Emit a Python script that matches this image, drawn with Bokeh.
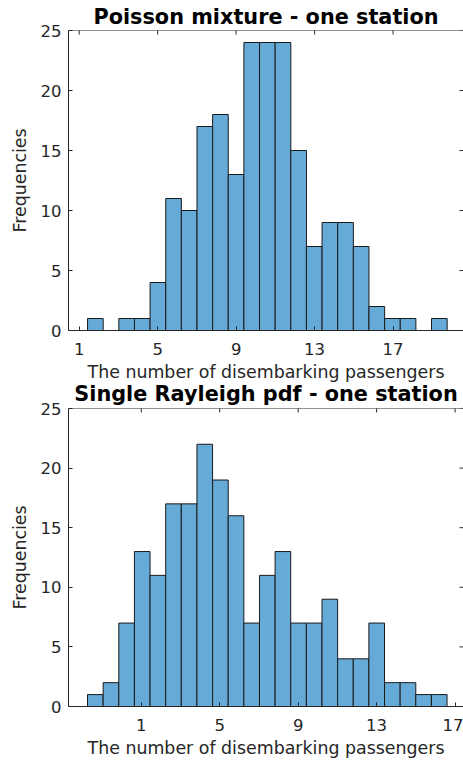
import math
from bokeh.plotting import figure
from bokeh.models import ColumnDataSource, Range1d, FixedTicker, Title, Span
from bokeh.layouts import column
from bokeh.embed import file_html
from bokeh.resources import INLINE

# ---- data ----
top_title = "Poisson mixture - one station"
bottom_title = "Single Rayleigh pdf - one station"
x_label = "The number of disembarking passengers"
y_label = "Frequencies"

top_counts = [1, 0, 1, 1, 4, 11, 10, 17, 18, 13, 24, 24, 24, 15, 7, 9, 9, 7, 2, 1, 1, 0, 1]
top_first_edge = 1.426
top_bin_width = 0.797
top_xlim = (0.455, 20.59)

bottom_counts = [1, 2, 7, 13, 11, 17, 17, 22, 19, 16, 7, 11, 13, 7, 7, 9, 4, 4, 7, 2, 2, 1, 1]
bottom_first_edge = -1.740
bottom_bin_width = 0.797
bottom_xlim = (-2.71, 17.43)

x_ticks = [1, 5, 9, 13, 17]
y_ticks = [0, 5, 10, 15, 20, 25]
y_lim = (0, 25)

FONT = "DejaVu Sans"
AX = "#262626"
FILL = "#66AAD7"


def make_hist(title, counts, first_edge, width, xlim, height, title_standoff):
    n = len(counts)
    left = [first_edge + i * width for i in range(n)]
    right = [first_edge + (i + 1) * width for i in range(n)]
    src = ColumnDataSource(dict(left=left, right=right, top=counts, bottom=[0] * n))

    p = figure(width=463, height=height, output_backend="svg", toolbar_location=None,
               x_range=Range1d(*xlim), y_range=Range1d(*y_lim),
               min_border_left=68, min_border_right=0, min_border_top=0,
               min_border_bottom=0)
    p.title = Title(text=title, align="center", offset=6,
                    text_font=FONT, text_font_size="20.8px", text_font_style="bold",
                    text_color="black", standoff=title_standoff)
    p.quad(left="left", right="right", top="top", bottom="bottom", source=src,
           fill_color=FILL, line_color="#1a1a1a", line_width=1)

    p.xgrid.visible = False
    p.ygrid.visible = False
    p.outline_line_color = None
    p.background_fill_color = "white"
    p.border_fill_color = None

    for ax, ticks in ((p.xaxis[0], x_ticks), (p.yaxis[0], y_ticks)):
        ax.ticker = FixedTicker(ticks=ticks)
        ax.major_tick_in = 4
        ax.major_tick_out = 0
        ax.minor_tick_in = 0
        ax.minor_tick_out = 0
        ax.axis_line_color = AX
        ax.major_tick_line_color = AX
        ax.major_label_text_font = FONT
        ax.major_label_text_font_size = "16.5px"
        ax.major_label_text_color = AX
        ax.major_label_text_line_height = 1.0
        ax.axis_label_text_font = FONT
        ax.axis_label_text_font_size = "17.4px"
        ax.axis_label_text_font_style = "normal"
        ax.axis_label_text_color = AX
        ax.axis_label_text_line_height = 1.0
    p.xaxis[0].axis_label = x_label
    p.yaxis[0].axis_label = y_label
    p.xaxis[0].major_label_standoff = 12
    p.xaxis[0].axis_label_standoff = 4
    p.yaxis[0].major_label_standoff = 7
    p.yaxis[0].axis_label_standoff = 8

    # top border of the box
    p.add_layout(Span(location=y_lim[1], dimension="width", line_color=AX, line_width=1))
    # inward box ticks on top and right edges (clipped to the frame)
    p.scatter(x=x_ticks, y=[y_lim[1]] * len(x_ticks), marker="dash", size=8,
              angle=math.pi / 2, line_color=AX, line_width=1)
    p.scatter(x=[xlim[1]] * len(y_ticks), y=y_ticks, marker="dash", size=8,
              line_color=AX, line_width=1)
    return p


p1 = make_hist(top_title, top_counts, top_first_edge, top_bin_width, top_xlim, 384, 4)
p2 = make_hist(bottom_title, bottom_counts, bottom_first_edge, bottom_bin_width, bottom_xlim, 384, 6)
p2.margin = (-8, 0, 0, 0)

layout = column(p1, p2, spacing=0)
open("out.html", "w").write(file_html(layout, INLINE))
